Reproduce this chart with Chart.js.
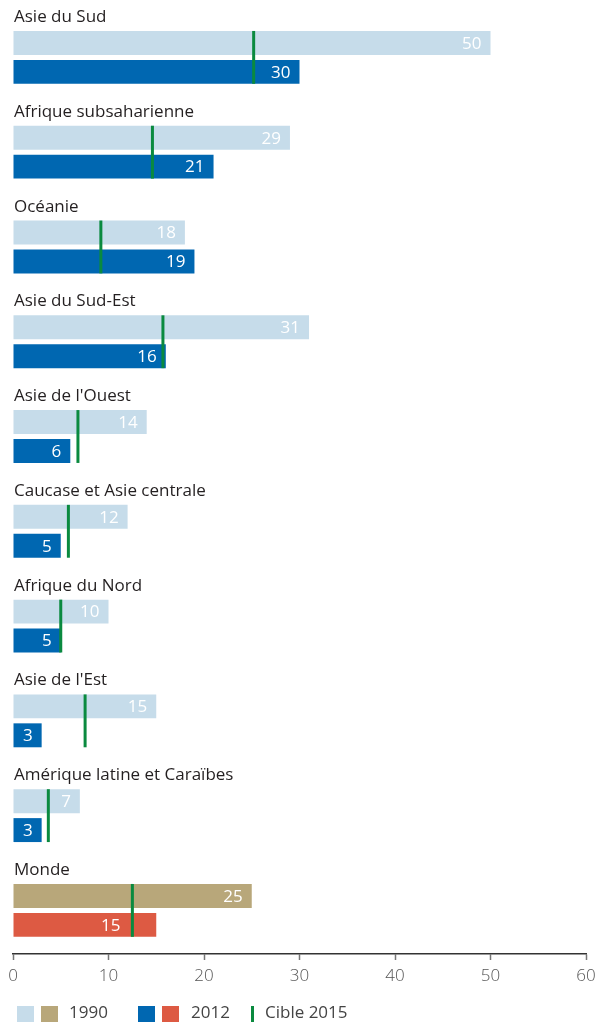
<!DOCTYPE html>
<html>
<head>
<meta charset="utf-8">
<script src="https://cdn.jsdelivr.net/npm/chart.js@4"></script>
<style>
  html, body { margin: 0; padding: 0; background: #fff; }
  #wrap { position: relative; width: 600px; height: 1022px; }
  canvas { position: absolute; left: 0; top: 0; }
  .lg { position: absolute; font-family: "Open Sans", sans-serif; font-size: 17px; color: #444; top: 1001px; line-height: 22px; }
  .sq { position: absolute; top: 1006px; width: 17px; height: 16px; }
</style>
</head>
<body>
<div id="wrap">
  <canvas id="c" width="600" height="1022"></canvas>
  <div class="sq" style="left:17px;background:#c6dcea"></div>
  <div class="sq" style="left:41px;background:#b8a77a"></div>
  <div class="lg" style="left:69px">1990</div>
  <div class="sq" style="left:138px;background:#0067b1"></div>
  <div class="sq" style="left:162px;background:#dd5a43"></div>
  <div class="lg" style="left:191px">2012</div>
  <div class="sq" style="left:251px;width:3px;background:#0a8a3f"></div>
  <div class="lg" style="left:265px">Cible 2015</div>
</div>
<script>
const categories = ["Asie du Sud", "Afrique subsaharienne", "Océanie", "Asie du Sud-Est", "Asie de l'Ouest", "Caucase et Asie centrale", "Afrique du Nord", "Asie de l'Est", "Amérique latine et Caraïbes", "Monde"];
const values1990 = [50, 29, 18, 31, 14, 12, 10, 15, 7, 25];
const values2012 = [30, 21, 19, 16, 6, 5, 5, 3, 3, 15];
const target2015 = [25.2, 14.6, 9.2, 15.7, 6.8, 5.8, 5.0, 7.55, 3.7, 12.5];
const xTicks = [0, 10, 20, 30, 40, 50, 60];

const col1990 = categories.map((c, i) => i === categories.length - 1 ? '#b8a77a' : '#c6dcea');
const col2012 = categories.map((c, i) => i === categories.length - 1 ? '#dd5a43' : '#0067b1');

const FONT = '"Open Sans", sans-serif';

const overlay = {
  id: 'overlay',
  afterDatasetsDraw(chart) {
    const ctx = chart.ctx;
    const m0 = chart.getDatasetMeta(0).data;
    const m1 = chart.getDatasetMeta(1).data;
    const xs = chart.scales.x;
    ctx.save();
    ctx.fillStyle = '#ffffff';
    ctx.textAlign = 'right';
    ctx.textBaseline = 'middle';
    ctx.font = '400 17px ' + FONT;
    [m0, m1].forEach((meta, d) => {
      const vals = d === 0 ? values1990 : values2012;
      meta.forEach((bar, i) => {
        const txt = String(vals[i]);
        const w = ctx.measureText(txt).width;
        const lx = xs.getPixelForValue(target2015[i]);
        let right = bar.x - 9;
        if (lx > right - w - 3 && lx < right + 3) right = lx - 12;
        ctx.fillText(txt, right, bar.y + 1);
      });
    });
    ctx.strokeStyle = '#0a8a3f';
    ctx.lineWidth = 3;
    m0.forEach((bar, i) => {
      const x = xs.getPixelForValue(target2015[i]);
      const top = bar.y - bar.height / 2;
      const b2 = m1[i];
      const bottom = b2.y + b2.height / 2;
      ctx.beginPath();
      ctx.moveTo(x, top);
      ctx.lineTo(x, bottom);
      ctx.stroke();
    });
    ctx.fillStyle = '#231f20';
    ctx.textAlign = 'left';
    ctx.textBaseline = 'alphabetic';
    ctx.font = '400 17px ' + FONT;
    m0.forEach((bar, i) => {
      const top = bar.y - bar.height / 2;
      ctx.fillText(categories[i], chart.chartArea.left + 1, top - 9);
    });
    ctx.restore();
  }
};

new Chart(document.getElementById('c'), {
  type: 'bar',
  data: {
    datasets: [
      { label: '1990', data: values1990.map((v, i) => ({ x: v, y: i })), backgroundColor: col1990, categoryPercentage: 0.6105, barPercentage: 0.8276 },
      { label: '2012', data: values2012.map((v, i) => ({ x: v, y: i })), backgroundColor: col2012, categoryPercentage: 0.6105, barPercentage: 0.8276 }
    ]
  },
  options: {
    indexAxis: 'y',
    responsive: false,
    animation: false,
    events: [],
    layout: { padding: { left: 13, right: 14, top: 10, bottom: 28 } },
    plugins: { legend: { display: false }, tooltip: { enabled: false } },
    scales: {
      y: {
        type: 'linear', reverse: true, min: -0.5, max: 9.46, offset: false, display: false,
        afterBuildTicks(scale) { scale.ticks = categories.map((c, i) => ({ value: i })); }
      },
      x: {
        type: 'linear', position: 'bottom', min: 0, max: 60,
        afterBuildTicks(scale) { scale.ticks = xTicks.map(v => ({ value: v })); },
        afterFit(scale) { scale.height = 40; scale.paddingLeft = 0; scale.paddingRight = 0; },
        grid: { drawOnChartArea: false, drawTicks: true, tickLength: 6, tickColor: '#777', tickWidth: 1.5 },
        border: { display: true, color: '#333', width: 1.5 },
        ticks: { color: '#555', font: { family: FONT, size: 17, weight: 300 }, padding: 6, maxRotation: 0 }
      }
    }
  },
  plugins: [overlay]
});
</script>
</body>
</html>
